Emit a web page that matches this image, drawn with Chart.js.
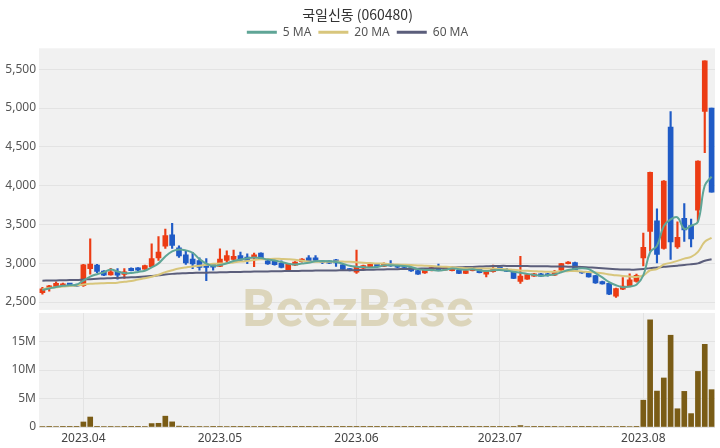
<!DOCTYPE html>
<html lang="ko">
<head>
<meta charset="utf-8">
<title>국일신동 (060480)</title>
<script src="https://cdn.jsdelivr.net/npm/chart.js@4.4.0/dist/chart.umd.min.js"></script>
<style>
  html, body { margin: 0; padding: 0; background: #fff; }
  #wrap { position: relative; width: 720px; height: 448px; overflow: hidden; }
  #priceChart { position: absolute; left: 0; top: 0; }
  #volChart { position: absolute; left: 0; top: 298px; }
</style>
</head>
<body>
<div id="wrap">
  <canvas id="priceChart" width="720" height="320"></canvas>
  <canvas id="volChart" width="720" height="150"></canvas>
</div>
<script>
// 거래일 (카테고리)
const dates = [
  '2023-03-24','2023-03-27','2023-03-28','2023-03-29','2023-03-30','2023-03-31',
  '2023-04-03','2023-04-04','2023-04-05','2023-04-06','2023-04-07','2023-04-10','2023-04-11','2023-04-12','2023-04-13','2023-04-14',
  '2023-04-17','2023-04-18','2023-04-19','2023-04-20','2023-04-21','2023-04-24','2023-04-25','2023-04-26','2023-04-27','2023-04-28',
  '2023-05-02','2023-05-03','2023-05-04','2023-05-08','2023-05-09','2023-05-10','2023-05-11','2023-05-12','2023-05-15','2023-05-16',
  '2023-05-17','2023-05-18','2023-05-19','2023-05-22','2023-05-23','2023-05-24','2023-05-25','2023-05-26','2023-05-30','2023-05-31',
  '2023-06-01','2023-06-02','2023-06-05','2023-06-07','2023-06-08','2023-06-09','2023-06-12','2023-06-13','2023-06-14','2023-06-15',
  '2023-06-16','2023-06-19','2023-06-20','2023-06-21','2023-06-22','2023-06-23','2023-06-26','2023-06-27','2023-06-28','2023-06-29','2023-06-30',
  '2023-07-03','2023-07-04','2023-07-05','2023-07-06','2023-07-07','2023-07-10','2023-07-11','2023-07-12','2023-07-13','2023-07-14',
  '2023-07-17','2023-07-18','2023-07-19','2023-07-20','2023-07-21','2023-07-24','2023-07-25','2023-07-26','2023-07-27','2023-07-28','2023-07-31',
  '2023-08-01','2023-08-02','2023-08-03','2023-08-04','2023-08-07','2023-08-08','2023-08-09','2023-08-10','2023-08-11','2023-08-14','2023-08-16'
];

// 시가 / 고가 / 저가 / 종가
const opens = [
  2620,2685,2690,2715,2735,2725,2710,2930,2975,2900,
  2850,2895,2855,2935,2940,2925,2955,3070,3220,3365,
  3200,3110,3055,3035,2990,2985,2960,3035,3050,3100,
  3080,3070,3130,3030,3025,3000,2915,2975,3020,3070,
  3070,3025,3030,3045,2980,2930,2885,2935,2955,2985,
  2960,2990,2960,2955,2945,2905,2875,2905,2950,2915,
  2905,2910,2870,2905,2920,2860,2890,2950,2915,2890,
  2765,2795,2835,2865,2865,2845,2910,2995,3010,2890,
  2870,2840,2765,2740,2575,2665,2700,2765,3070,3410,
  3545,3190,4755,3210,3580,3485,3685,4955,5000
];
const highs = [
  2690,2715,2760,2745,2740,2730,2985,3315,2985,2905,
  2935,2930,2930,2940,2945,2975,3250,3345,3440,3515,
  3225,3160,3140,3070,3060,2990,3185,3160,3170,3145,
  3120,3130,3135,3040,3045,3030,2995,3020,3060,3100,
  3100,3035,3035,3050,2985,2935,3170,2975,2990,2990,
  3005,3035,2965,2960,2950,2910,2920,2950,2990,2955,
  2950,2915,2910,2945,2925,2905,2975,2955,2935,2895,
  3090,2860,2870,2870,2870,2910,3000,3020,3015,2895,
  2875,2845,2770,2745,2680,2815,2865,2860,3390,4175,
  3700,4065,4955,3535,3770,3570,4320,5610,5000
];
const lows = [
  2600,2640,2685,2710,2715,2700,2700,2860,2880,2840,
  2845,2795,2805,2900,2905,2920,2950,3035,3190,3190,
  3075,2985,2930,2910,2775,2910,2955,3015,3040,3030,
  2995,2955,3055,2985,2975,2940,2910,2970,3015,3025,
  3030,2995,2995,2960,2915,2900,2870,2930,2950,2950,
  2955,2960,2940,2940,2895,2855,2870,2900,2900,2910,
  2900,2865,2865,2900,2875,2825,2885,2920,2890,2800,
  2740,2790,2830,2830,2835,2840,2905,2990,2905,2870,
  2820,2740,2730,2595,2560,2660,2695,2755,2965,3155,
  3005,3180,3050,3190,3280,3210,3535,4425,3915
];
const closes = [
  2670,2710,2740,2735,2725,2705,2980,2990,2895,2845,
  2890,2845,2890,2905,2910,2970,3060,3145,3355,3230,
  3095,3005,2990,2945,2945,2950,3055,3100,3090,3040,
  3035,3110,3060,2990,2980,2945,2990,3015,3055,3030,
  3035,3010,3000,3005,2920,2905,2950,2970,2985,2955,
  3000,2965,2950,2945,2900,2860,2915,2945,2905,2950,
  2945,2870,2905,2940,2880,2900,2925,2925,2895,2805,
  2835,2855,2865,2835,2840,2880,2995,3015,2910,2875,
  2825,2745,2735,2600,2675,2705,2785,2845,3205,4170,
  3115,4060,3275,3335,3430,3315,4315,5610,3915
];

// 이동평균선
const ma5 = [
  2655,2675,2695,2710,2716,2723,2777,2827,2859,2883,
  2920,2893,2873,2875,2888,2904,2947,2998,3088,3152,
  3177,3166,3135,3053,2996,2967,2977,2999,3028,3047,
  3064,3075,3067,3047,3035,3017,2993,2984,2997,3007,
  3025,3029,3026,3016,2994,2968,2956,2950,2946,2953,
  2972,2975,2971,2963,2952,2924,2914,2913,2905,2915,
  2932,2923,2915,2922,2908,2899,2910,2914,2905,2890,
  2877,2863,2851,2839,2846,2855,2883,2913,2928,2935,
  2924,2874,2818,2756,2716,2692,2700,2722,2843,3142,
  3224,3479,3565,3591,3443,3483,3534,4001,4117
];
const ma20 = [
  2665,2680,2690,2700,2708,2712,2725,2735,2740,2743,
  2746,2750,2760,2772,2790,2806,2826,2851,2886,2910,
  2931,2946,2958,2969,2980,2992,2996,3001,3011,3021,
  3028,3041,3050,3054,3058,3056,3053,3046,3031,3021,
  3018,3019,3019,3022,3021,3019,3013,3007,3002,2997,
  2996,2988,2983,2981,2977,2972,2969,2965,2958,2954,
  2949,2942,2937,2934,2932,2932,2931,2928,2924,2916,
  2908,2903,2898,2893,2890,2891,2895,2898,2899,2895,
  2886,2880,2872,2855,2844,2835,2828,2824,2842,2910,
  2924,2984,3005,3030,3059,3081,3147,3277,3327
];
const ma60 = [
  2775,2777,2779,2781,2783,2785,2790,2795,2800,2804,
  2808,2811,2815,2818,2822,2828,2836,2845,2855,2863,
  2868,2872,2875,2877,2879,2881,2883,2885,2887,2888,
  2890,2892,2894,2895,2896,2898,2899,2900,2902,2903,
  2905,2906,2907,2908,2909,2910,2912,2914,2916,2918,
  2920,2922,2924,2926,2928,2930,2932,2935,2938,2941,
  2944,2947,2950,2953,2957,2961,2965,2966,2966,2965,
  2964,2963,2962,2961,2960,2959,2958,2956,2954,2951,
  2946,2941,2935,2929,2924,2920,2918,2918,2925,2937,
  2945,2955,2962,2969,2977,2987,2998,3033,3052
];

// 거래량 (백만 주)
const volumes = [
  0.08,0.06,0.09,0.05,0.04,0.05,0.88,1.75,0.12,0.08,
  0.07,0.09,0.06,0.05,0.05,0.10,0.60,0.65,1.90,0.90,
  0.15,0.12,0.10,0.07,0.09,0.05,0.11,0.08,0.06,0.05,
  0.06,0.07,0.05,0.05,0.04,0.05,0.06,0.04,0.05,0.05,
  0.04,0.03,0.03,0.04,0.05,0.04,0.12,0.05,0.04,0.03,
  0.04,0.05,0.03,0.03,0.04,0.05,0.04,0.04,0.05,0.03,
  0.04,0.04,0.03,0.04,0.04,0.05,0.06,0.04,0.04,0.06,
  0.25,0.08,0.05,0.04,0.04,0.06,0.09,0.05,0.07,0.04,
  0.05,0.07,0.04,0.08,0.07,0.06,0.09,0.12,4.70,18.8,
  6.30,8.60,16.1,3.20,6.25,2.35,9.75,14.5,6.55
];

// 축 눈금
const priceTicks = [2500, 3000, 3500, 4000, 4500, 5000, 5500];
const priceMin = 2400, priceMax = 5770;
const priceGridIdx = [20, 40, 60, 80];
const volTicks = [0, 5, 10, 15];
const volTickLabels = ['0', '5M', '10M', '15M'];
const monthTicks = ['2023-04-03', '2023-05-02', '2023-06-01', '2023-07-03', '2023-08-01'];
const monthLabels = ['2023.04', '2023.05', '2023.06', '2023.07', '2023.08'];

const upColor = '#ec3c14';
const downColor = '#1f5bc6';
const gridColor = '#e3e3e3';

Chart.defaults.font.family = "'Noto Sans', 'DejaVu Sans', sans-serif";
Chart.defaults.font.size = 12;
Chart.defaults.color = '#555';

// 패널 배경 + 워터마크 (페이지 좌표 기준으로 그림)
const panelPlugin = {
  id: 'panel',
  beforeDraw(chart) {
    const { ctx, chartArea: a } = chart;
    ctx.save();
    ctx.fillStyle = '#f1f1f1';
    ctx.fillRect(a.left, a.top, a.right - a.left, a.bottom - a.top);
    ctx.restore();
  },
  beforeDatasetsDraw(chart, args, opts) {
    const { ctx, chartArea: a } = chart;
    ctx.save();
    ctx.beginPath();
    ctx.rect(a.left, a.top, a.right - a.left, a.bottom - a.top);
    ctx.clip();
    ctx.font = 'bold 52px Roboto, sans-serif';
    ctx.fillStyle = '#dcd5bb';
    ctx.textAlign = 'center';
    ctx.textBaseline = 'alphabetic';
    ctx.fillText('BeezBase', 358, 326 - opts.top);
    ctx.restore();
  }
};

const candleColors = closes.map((c, i) => c >= opens[i] ? upColor : downColor);

function maLine(label, data, color) {
  return {
    type: 'line', label: label, data: data,
    borderColor: color, backgroundColor: color,
    borderWidth: 2, pointRadius: 0, tension: 0.4, order: 1
  };
}

// 1. 가격 차트 (캔들 + 이동평균)
new Chart(document.getElementById('priceChart'), {
  type: 'bar',
  data: {
    labels: dates,
    datasets: [
      maLine('5 MA', ma5, '#5fa596'),
      maLine('20 MA', ma20, '#d8c67c'),
      maLine('60 MA', ma60, '#5b5e7b'),
      {
        label: 'wick',
        data: dates.map((d, i) => [lows[i], highs[i]]),
        backgroundColor: candleColors,
        barThickness: 1.5, grouped: false, order: 3
      },
      {
        label: 'body',
        data: dates.map((d, i) => [opens[i], closes[i]]),
        backgroundColor: candleColors,
        barThickness: 5, grouped: false, order: 2, minBarLength: 1.5
      }
    ]
  },
  options: {
    responsive: false,
    animation: false,
    layout: { padding: { top: 0, right: 5, bottom: 10, left: 0 } },
    plugins: {
      panel: { top: 0 },
      tooltip: { enabled: false },
      title: {
        display: true,
        text: '국일신동 (060480)',
        color: '#333',
        font: { family: "'Noto Sans CJK KR', sans-serif", size: 14, weight: 'normal', lineHeight: 0.7 },
        padding: { top: 9.5, bottom: 0 }
      },
      legend: {
        display: true,
        labels: {
          boxWidth: 30, boxHeight: 3, padding: 7, color: '#555',
          font: { size: 12 },
          generateLabels(chart) {
            return Chart.defaults.plugins.legend.labels.generateLabels(chart)
              .filter(item => item.datasetIndex < 3)
              .map(item => Object.assign(item, { lineWidth: 0, fillStyle: item.strokeStyle }));
          }
        }
      }
    },
    scales: {
      x: {
        position: 'top',
        grid: { color: gridColor, drawTicks: false, offset: false },
        border: { display: false },
        ticks: { display: false },
        afterBuildTicks: axis => { axis.ticks = priceGridIdx.map(v => ({ value: v - 0.5 })); },
        afterFit: axis => { axis.height = 0; }
      },
      y: {
        min: priceMin, max: priceMax,
        grid: { color: gridColor, drawTicks: false },
        border: { display: false },
        ticks: { padding: 3, color: '#555', callback: v => v.toLocaleString('en-US') },
        afterBuildTicks: axis => { axis.ticks = priceTicks.map(v => ({ value: v })); },
        afterFit: axis => { axis.width = 39; }
      }
    }
  },
  plugins: [panelPlugin]
});

// 2. 거래량 차트
const monthIdx = monthTicks.map(d => dates.indexOf(d));

new Chart(document.getElementById('volChart'), {
  type: 'bar',
  data: {
    labels: dates,
    datasets: [{
      label: 'Volume',
      data: volumes,
      backgroundColor: '#7a5c16',
      barThickness: 5
    }]
  },
  options: {
    responsive: false,
    animation: false,
    layout: { padding: { top: 15, right: 5, bottom: 0, left: 0 } },
    plugins: {
      panel: { top: 298 },
      legend: { display: false },
      tooltip: { enabled: false }
    },
    scales: {
      x: {
        grid: { color: gridColor, drawTicks: false, offset: false },
        border: { display: false },
        ticks: {
          autoSkip: false, minRotation: 0, maxRotation: 0, padding: 4, color: '#444',
          callback: v => monthLabels[monthIdx.indexOf(v)]
        },
        afterBuildTicks: axis => { axis.ticks = monthIdx.map(v => ({ value: v })); },
        afterFit: axis => { axis.height = 21; }
      },
      y: {
        min: 0, max: 20,
        grid: { color: gridColor, drawTicks: false },
        border: { display: false },
        ticks: { padding: 3, color: '#555', callback: v => volTickLabels[volTicks.indexOf(v)] },
        afterBuildTicks: axis => { axis.ticks = volTicks.map(v => ({ value: v })); },
        afterFit: axis => { axis.width = 39; }
      }
    }
  },
  plugins: [panelPlugin]
});
</script>
</body>
</html>
